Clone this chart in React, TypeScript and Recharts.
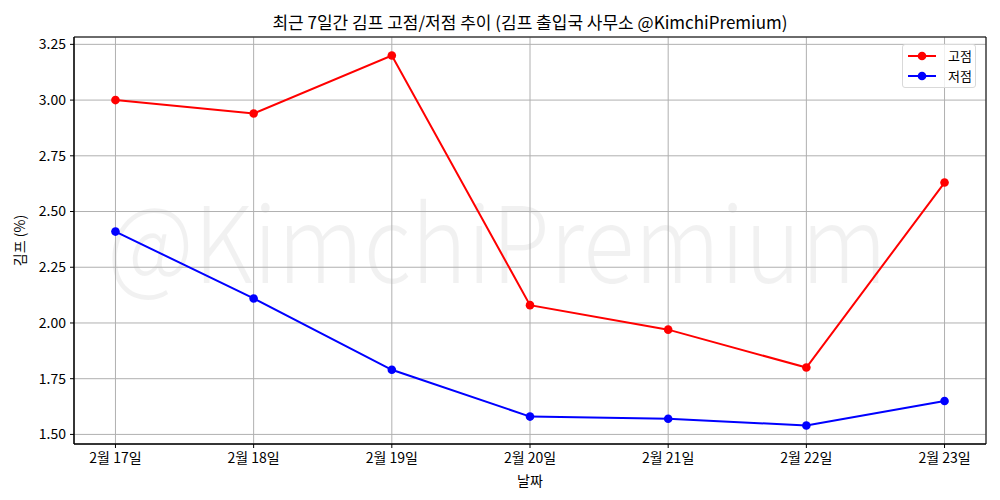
import React from "react";
import {
  CartesianGrid,
  Line,
  LineChart,
  ReferenceArea,
  XAxis,
  YAxis,
} from "recharts";

const dates = ["2월 17일", "2월 18일", "2월 19일", "2월 20일", "2월 21일", "2월 22일", "2월 23일"];
const highs = [3.0, 2.94, 3.2, 2.08, 1.97, 1.8, 2.63];
const lows = [2.41, 2.11, 1.79, 1.58, 1.57, 1.54, 1.65];
const yTicks = [1.5, 1.75, 2.0, 2.25, 2.5, 2.75, 3.0, 3.25];

const FONT = "'Noto Sans CJK KR', 'Noto Sans', sans-serif";

const data = dates.map((d, i) => ({ idx: i, date: d, high: highs[i], low: lows[i] }));

const allVals = [...highs, ...lows];
const vMin = Math.min(...allVals);
const vMax = Math.max(...allVals);
const pad = (vMax - vMin) * 0.05;
const yDomain: [number, number] = [vMin - pad, vMax + pad];
const xDomain: [number, number] = [-0.3, dates.length - 1 + 0.3];

const legendItems = [
  { label: "고점", color: "#ff0000" },
  { label: "저점", color: "#0000ff" },
];

const LegendBox = () => (
  <div
    style={{
      position: "absolute",
      left: 902,
      top: 44,
      width: 74,
      boxSizing: "border-box",
      border: "1px solid #d9d9d9",
      borderRadius: 3,
      background: "rgba(255,255,255,0.8)",
      padding: "1px 0 1px 4px",
      fontFamily: FONT,
      fontSize: 13,
      lineHeight: "20px",
    }}
  >
    {legendItems.map((it) => (
      <div key={it.label} style={{ display: "flex", alignItems: "center" }}>
        <svg width={30} height={12} style={{ marginRight: 11 }}>
          <line x1={1} y1={6} x2={29} y2={6} stroke={it.color} strokeWidth={2} />
          <circle cx={15} cy={6} r={4.3} fill={it.color} />
        </svg>
        <span style={{ color: "#000" }}>{it.label}</span>
      </div>
    ))}
  </div>
);

export default function App() {
  return (
    <div style={{ position: "absolute", left: 0, top: 0, width: 1000, height: 500, background: "#fff" }}>
      <svg width={1000} height={500} style={{ position: "absolute", left: 0, top: 0 }}>
        <text
          x={497}
          y={283}
          textAnchor="middle"
          fontFamily={FONT}
          fontWeight={300}
          fontSize={106}
          fill="#000"
          fillOpacity={0.055}
          textLength={780}
          lengthAdjust="spacingAndGlyphs"
        >
          @KimchiPremium
        </text>
      </svg>
      <div style={{ position: "absolute", left: 0, top: 0 }}>
        <LineChart
          width={1000}
          height={500}
          data={data}
          margin={{ top: 37, right: 14, bottom: 0, left: 14 }}
        >
          <CartesianGrid stroke="#b0b0b0" strokeWidth={1} />
          <XAxis
            dataKey="idx"
            type="number"
            domain={xDomain}
            ticks={dates.map((_, i) => i)}
            tickFormatter={(v: number) => dates[v] ?? ""}
            height={56}
            stroke="#000"
            tickSize={4}
            tickMargin={5}
            tick={{ fill: "#000", fontSize: 14, fontFamily: FONT }}
            label={{ value: "날짜", position: "insideBottom", offset: 14, fill: "#000", fontSize: 14, fontFamily: FONT }}
          />
          <YAxis
            type="number"
            domain={yDomain}
            ticks={yTicks}
            tickFormatter={(v: number) => v.toFixed(2)}
            width={60}
            stroke="#000"
            tickSize={4}
            tickMargin={4}
            tick={{ fill: "#000", fontSize: 14, fontFamily: FONT }}
            label={{ value: "김프 (%)", angle: -90, position: "insideLeft", offset: 6, fill: "#000", fontSize: 14, fontFamily: FONT, style: { textAnchor: "middle" } }}
          />
          <ReferenceArea
            x1={xDomain[0]}
            x2={xDomain[1]}
            y1={yDomain[0]}
            y2={yDomain[1]}
            fill="none"
            stroke="#000"
            strokeWidth={1}
            ifOverflow="visible"
          />
          <Line
            dataKey="high"
            name="고점"
            stroke="#ff0000"
            strokeWidth={2}
            dot={{ r: 4.3, fill: "#ff0000", stroke: "#ff0000", strokeWidth: 0 }}
            activeDot={false}
            isAnimationActive={false}
          />
          <Line
            dataKey="low"
            name="저점"
            stroke="#0000ff"
            strokeWidth={2}
            dot={{ r: 4.3, fill: "#0000ff", stroke: "#0000ff", strokeWidth: 0 }}
            activeDot={false}
            isAnimationActive={false}
          />
        </LineChart>
      </div>
      <LegendBox />
      <div
        style={{
          position: "absolute",
          left: 74,
          width: 912,
          top: 9,
          textAlign: "center",
          fontFamily: FONT,
          fontSize: 17,
          color: "#000",
        }}
      >
        최근 7일간 김프 고점/저점 추이 (김프 출입국 사무소 @KimchiPremium)
      </div>
    </div>
  );
}
